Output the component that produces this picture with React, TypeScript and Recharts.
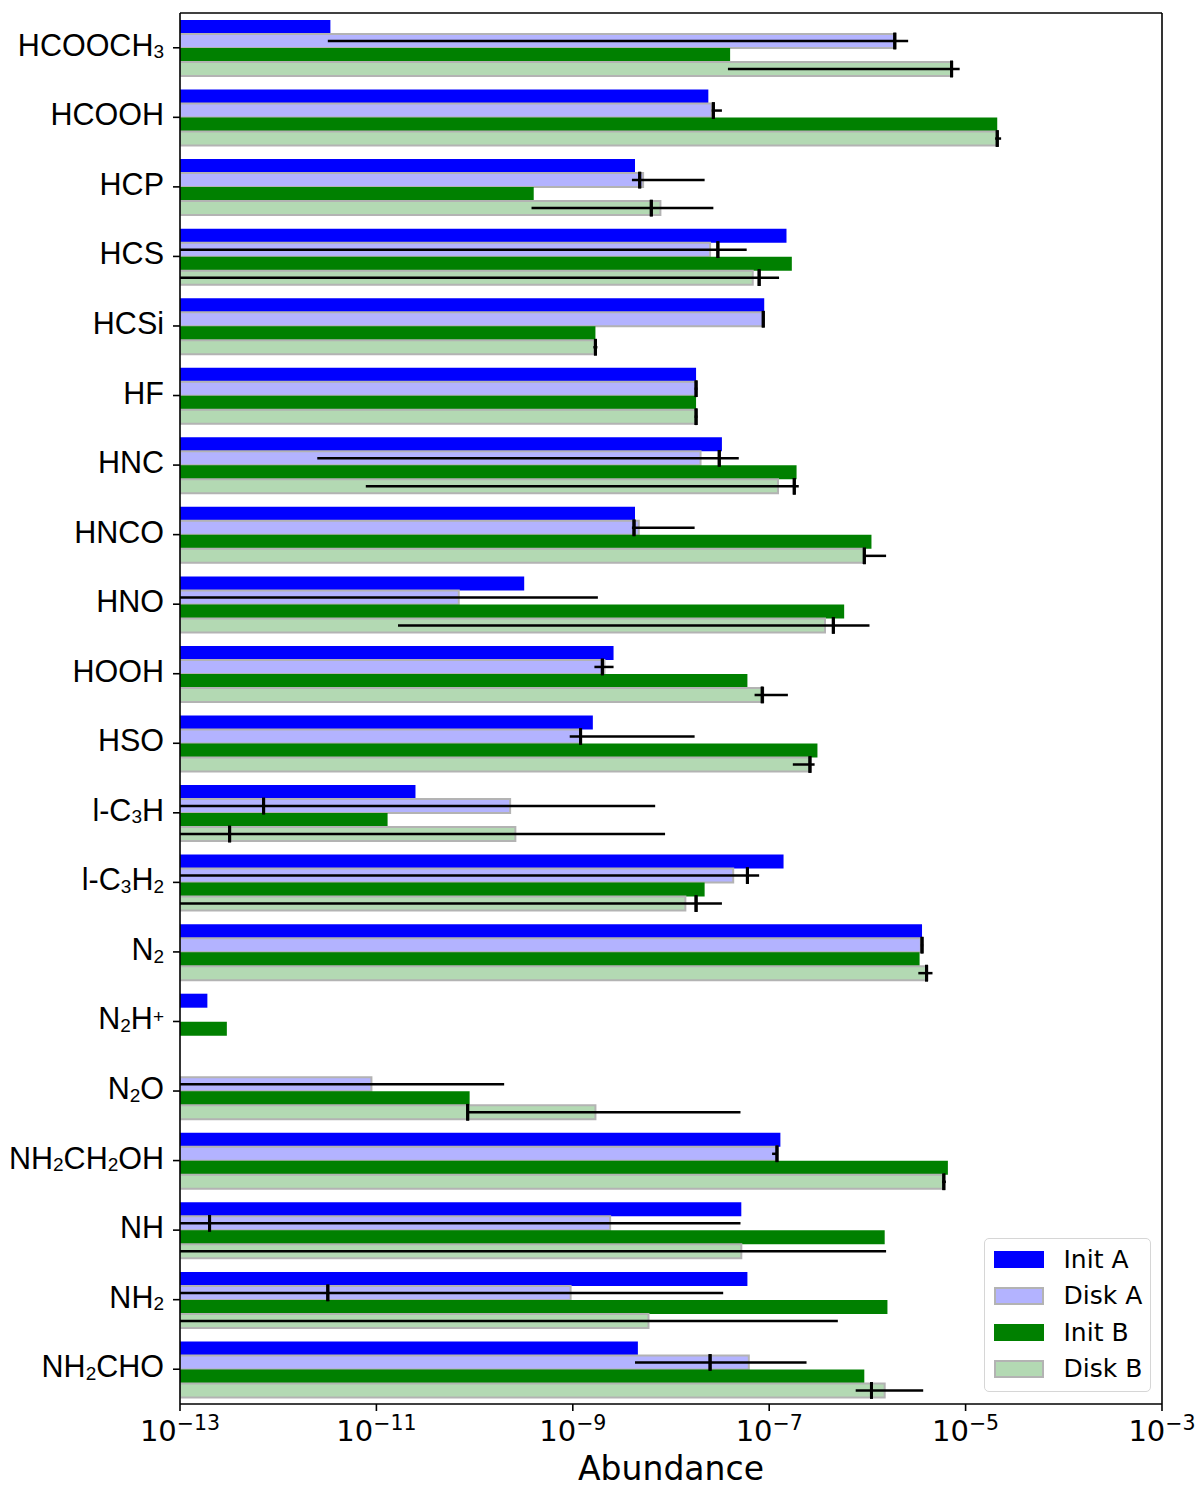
import React from 'react';
import { BarChart, Bar, XAxis, YAxis, ErrorBar, Legend, ReferenceLine } from 'recharts';

const AXIS_MIN = 1e-13;
const AXIS_MAX = 1e-3;
const xTicks = [1e-13, 1e-11, 1e-9, 1e-7, 1e-5, 1e-3];

const species = [
  'HCOOCH3', 'HCOOH', 'HCP', 'HCS', 'HCSi', 'HF', 'HNC', 'HNCO', 'HNO', 'HOOH',
  'HSO', 'l-C3H', 'l-C3H2', 'N2', 'N2H+', 'N2O', 'NH2CH2OH', 'NH', 'NH2', 'NH2CHO',
];

const initA = [3.4e-12, 2.4e-8, 4.3e-9, 1.5e-7, 8.9e-8, 1.8e-8, 3.3e-8, 4.3e-9, 3.2e-10, 2.6e-9,
  1.6e-9, 2.5e-11, 1.4e-7, 3.6e-6, 1.9e-13, null, 1.3e-7, 5.2e-8, 6.0e-8, 4.6e-9];
const diskA = [1.9e-6, 2.6e-8, 5.2e-9, 2.5e-8, 8.7e-8, 1.8e-8, 2.0e-8, 4.7e-9, 6.9e-11, 2.1e-9,
  1.2e-9, 2.3e-10, 4.3e-8, 3.5e-6, null, 8.9e-12, 1.2e-7, 2.4e-9, 9.5e-10, 6.2e-8];
const diskAMid = [1.9e-6, 2.7e-8, 4.8e-9, 3.0e-8, 8.7e-8, 1.8e-8, 3.1e-8, 4.2e-9, null, 2.0e-9,
  1.2e-9, 7.1e-13, 6.0e-8, 3.6e-6, null, null, 1.2e-7, 2.0e-13, 3.2e-12, 2.5e-8];
const diskALow = [3.2e-12, 2.6e-8, 4.0e-9, 1e-13, 8.5e-8, 1.74e-8, 2.5e-12, 4.0e-9, 1e-13, 1.66e-9,
  9.3e-10, 1e-13, 1e-13, 3.5e-6, null, 1e-13, 1.07e-7, 1e-13, 1e-13, 4.3e-9];
const diskAHigh = [2.6e-6, 3.3e-8, 2.2e-8, 5.9e-8, 8.9e-8, 1.86e-8, 4.9e-8, 1.74e-8, 1.8e-9, 2.6e-9,
  1.74e-8, 6.9e-9, 7.9e-8, 3.7e-6, null, 2.0e-10, 1.23e-7, 5.1e-8, 3.4e-8, 2.4e-7];

const initB = [4.0e-8, 2.1e-5, 4.0e-10, 1.7e-7, 1.7e-9, 1.8e-8, 1.9e-7, 1.1e-6, 5.8e-7, 6.0e-8,
  3.1e-7, 1.3e-11, 2.2e-8, 3.4e-6, 3.0e-13, 8.9e-11, 6.6e-6, 1.5e-6, 1.6e-6, 9.3e-7];
const diskB = [7.2e-6, 2.1e-5, 7.8e-9, 6.8e-8, 1.66e-9, 1.8e-8, 1.23e-7, 9.3e-7, 3.7e-7, 8.7e-8,
  2.6e-7, 2.6e-10, 1.4e-8, 4.1e-6, null, 1.7e-9, 5.9e-6, 5.2e-8, 5.9e-9, 1.5e-6];
const diskBMid = [7.2e-6, 2.1e-5, 6.3e-9, 7.9e-8, 1.7e-9, 1.8e-8, 1.8e-7, 9.3e-7, 4.5e-7, 8.5e-8,
  2.6e-7, 3.2e-13, 1.8e-8, 4.0e-6, null, 8.5e-11, 6.0e-6, null, null, 1.1e-6];
const diskBLow = [3.8e-8, 2.0e-5, 3.8e-10, 1e-13, 1.62e-9, 1.74e-8, 7.8e-12, 9.1e-7, 1.66e-11, 7.1e-8,
  1.74e-7, 1e-13, 1e-13, 3.3e-6, null, 8.5e-11, 5.75e-6, 1e-13, 1e-13, 7.6e-7];
const diskBHigh = [8.7e-6, 2.3e-5, 2.7e-8, 1.26e-7, 1.78e-9, 1.86e-8, 2.0e-7, 1.55e-6, 1.05e-6, 1.55e-7,
  2.9e-7, 8.7e-9, 3.3e-8, 4.6e-6, null, 5.1e-8, 6.3e-6, 1.55e-6, 5.0e-7, 3.7e-6];

const seriesMeta = [
  { key: 'initA', label: 'Init A', fill: '#0000ff', stroke: '' },
  { key: 'diskA', label: 'Disk A', fill: '#b3b3ff', stroke: '#b3b3b3' },
  { key: 'initB', label: 'Init B', fill: '#008000', stroke: '' },
  { key: 'diskB', label: 'Disk B', fill: '#b3d9b3', stroke: '#b3b3b3' },
];

// bars run from the left edge of the log axis
const span = (v: number | null) => (v == null ? [AXIS_MIN, AXIS_MIN] : [AXIS_MIN, v]);
// error line from lo to hi, expressed relative to the bar value
const spread = (v: number | null, lo: number | null, hi: number | null) =>
  v == null || lo == null || hi == null ? null : [v - Math.max(lo, AXIS_MIN), hi - v];
// zero-length error bar whose caps make the '|' marker at m
const mark = (v: number | null, m: number | null) => (v == null || m == null ? null : [v - m, m - v]);

const rows = species.map((name, i) => ({
  name,
  initA: span(initA[i]),
  diskA: span(diskA[i]),
  initB: span(initB[i]),
  diskB: span(diskB[i]),
  diskAErr: spread(diskA[i], diskALow[i], diskAHigh[i]),
  diskAMark: mark(diskA[i], diskAMid[i]),
  diskBErr: spread(diskB[i], diskBLow[i], diskBHigh[i]),
  diskBMark: mark(diskB[i], diskBMid[i]),
}));

const SpeciesTick = (props: any) => {
  const { x, y, payload } = props;
  const parts: string[] = String(payload.value).match(/\d+|\+|[^\d+]+/g) || [];
  let shift = 0;
  return (
    <text x={x} y={y + 8} textAnchor="end" fontFamily="'Liberation Sans', Arial, sans-serif" fontSize={30.5} fill="#000">
      {parts.map((p, i) => {
        const target = /\d/.test(p) ? 2.6 : p === '+' ? -6 : 0;
        const dy = target - shift;
        shift = target;
        return (
          <tspan key={i} dy={dy} fontSize={target !== 0 ? 19 : 30.5}>
            {p}
          </tspan>
        );
      })}
    </text>
  );
};

const PowerTick = (props: any) => {
  const { x, y, payload } = props;
  const exp = Math.round(Math.log10(payload.value));
  return (
    <text x={x} y={y + 28} textAnchor="middle" fontFamily="'DejaVu Sans', sans-serif" fontSize={29} fill="#000">
      10
      <tspan dy={-10.7} fontSize={20.5}>
        {`\u2212${Math.abs(exp)}`}
      </tspan>
    </text>
  );
};

const LegendBox = () => (
  <div
    style={{
      boxSizing: 'border-box',
      width: 167,
      height: 154,
      border: '1.5px solid #d6d6d6',
      borderRadius: 5,
      background: 'rgba(255,255,255,0.8)',
      padding: '2px 0 0 8.5px',
      fontFamily: "'DejaVu Sans', sans-serif",
      fontSize: 25,
      color: '#000',
    }}
  >
    {seriesMeta.map((s) => (
      <div key={s.key} style={{ display: 'flex', alignItems: 'center', height: 36.5 }}>
        <span
          style={{
            display: 'inline-block',
            boxSizing: 'border-box',
            width: 50,
            height: 17.5,
            background: s.fill,
            border: s.stroke ? `2px solid ${s.stroke}` : 'none',
            marginRight: 20,
          }}
        />
        <span>{s.label}</span>
      </div>
    ))}
  </div>
);

const axisStroke = { stroke: '#000', strokeWidth: 1.6 };

export default function App() {
  return (
    <div style={{ position: 'absolute', left: 0, top: 0, background: '#fff' }}>
      <BarChart
        width={1200}
        height={1490}
        data={rows}
        layout="vertical"
        margin={{ top: 0, right: 38, bottom: 0, left: 0 }}
        barSize={14}
        barGap={0}
      >
        <XAxis
          type="number"
          scale="log"
          domain={[AXIS_MIN, AXIS_MAX]}
          allowDataOverflow
          ticks={xTicks}
          tick={<PowerTick />}
          tickSize={7}
          height={86}
          axisLine={axisStroke}
          tickLine={axisStroke}
          label={(p: any) => (
            <text
              x={p.viewBox.x + p.viewBox.width / 2}
              y={p.viewBox.y + 76}
              textAnchor="middle"
              fontFamily="'DejaVu Sans', sans-serif"
              fontSize={33}
              fill="#000"
            >
              Abundance
            </text>
          )}
        />
        <XAxis
          xAxisId="top"
          orientation="top"
          type="number"
          scale="log"
          domain={[AXIS_MIN, AXIS_MAX]}
          allowDataOverflow
          ticks={xTicks}
          tick={false}
          tickSize={7}
          height={13}
          axisLine={axisStroke}
          tickLine={axisStroke}
        />
        <YAxis
          type="category"
          dataKey="name"
          width={180}
          interval={0}
          tickSize={7}
          tickMargin={9}
          tick={<SpeciesTick />}
          axisLine={axisStroke}
          tickLine={axisStroke}
        />
        <ReferenceLine x={AXIS_MAX} stroke="#000" strokeWidth={1.6} />
        <Bar dataKey="initA" name="Init A" fill="#0000ff" isAnimationActive={false} />
        <Bar dataKey="diskA" name="Disk A" fill="#b3b3ff" stroke="#b3b3b3" strokeWidth={2} isAnimationActive={false}>
          <ErrorBar dataKey="diskAErr" direction="x" width={0} stroke="#000" strokeWidth={2.5} isAnimationActive={false} />
          <ErrorBar dataKey="diskAMark" direction="x" width={8.3} stroke="#000" strokeWidth={3} isAnimationActive={false} />
        </Bar>
        <Bar dataKey="initB" name="Init B" fill="#008000" isAnimationActive={false} />
        <Bar dataKey="diskB" name="Disk B" fill="#b3d9b3" stroke="#b3b3b3" strokeWidth={2} isAnimationActive={false}>
          <ErrorBar dataKey="diskBErr" direction="x" width={0} stroke="#000" strokeWidth={2.5} isAnimationActive={false} />
          <ErrorBar dataKey="diskBMark" direction="x" width={8.3} stroke="#000" strokeWidth={3} isAnimationActive={false} />
        </Bar>
        <Legend
          layout="horizontal"
          verticalAlign="middle"
          align="center"
          content={() => <LegendBox />}
          wrapperStyle={{ left: 984, top: 1238, right: 'auto', bottom: 'auto', width: 167, height: 154 }}
        />
      </BarChart>
    </div>
  );
}
